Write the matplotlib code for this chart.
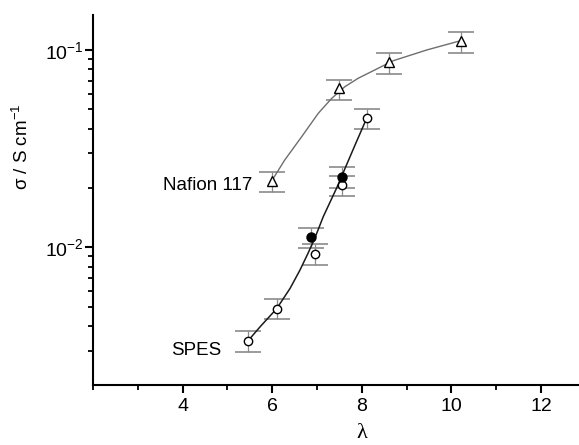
import numpy as np
import matplotlib as mpl
mpl.use('Agg')
import matplotlib.pyplot as plt
from matplotlib.ticker import LogLocator, NullFormatter, MultipleLocator

plt.rcParams['font.family'] = ['Liberation Sans', 'DejaVu Sans']
plt.rcParams['mathtext.default'] = 'regular'

### data
# Nafion 117 (open triangles)
naf_lam = [6.0, 7.5, 8.61, 10.21]
naf_sig = [0.0217, 0.064, 0.0873, 0.111]
naf_lo = [0.019, 0.0558, 0.076, 0.097]
naf_hi = [0.024, 0.0705, 0.097, 0.123]

# SPES (open circles)
spes_lam = [5.46, 6.10, 6.95, 7.57, 8.11]
spes_sig = [0.00336, 0.00489, 0.00929, 0.0206, 0.0451]
spes_lo = [0.00294, 0.00432, 0.00817, 0.0182, 0.0396]
spes_hi = [0.00375, 0.00545, 0.0104, 0.0231, 0.0505]

# SPES (filled circles)
spesf_lam = [6.86, 7.56]
spesf_sig = [0.0113, 0.0228]
spesf_lo = [0.00992, 0.0200]
spesf_hi = [0.0126, 0.0256]

# fitted curves (traced)
naf_fit_lam = [6.0, 6.28, 6.66, 7.03, 7.33, 7.62, 7.92, 8.29, 8.70, 9.45, 10.21]
naf_fit_sig = [0.0219, 0.0277, 0.0364, 0.0478, 0.0569, 0.0651, 0.0719, 0.0792, 0.0882, 0.100, 0.1115]
spes_fit_lam = [5.46, 5.73, 6.10, 6.40, 6.62, 6.80, 6.95, 7.14, 7.44, 7.85, 8.11]
spes_fit_sig = [0.00336, 0.00396, 0.00489, 0.0062, 0.00767, 0.00933, 0.0111, 0.0143, 0.0200, 0.033, 0.0451]

xticks = [4, 6, 8, 10, 12]

#%%
def yerr(sig, lo, hi):
    sig = np.array(sig)
    return [sig - np.array(lo), np.array(hi) - sig]

fig = plt.figure(figsize=(5.79, 4.45), dpi=100)
ax = fig.add_axes([93/579, 1-384.5/445, 1-93/579, (384.5-15)/445])

ax.plot(naf_fit_lam, naf_fit_sig, color='#6e6e6e', lw=1.0, zorder=2)
ax.plot(spes_fit_lam, spes_fit_sig, color='#1a1a1a', lw=1.1, zorder=2)

ekw = dict(fmt='none', ecolor='#8a8a8a', elinewidth=0.9, capsize=9.7, capthick=1.2, zorder=1)
ax.errorbar(naf_lam, naf_sig, yerr=yerr(naf_sig, naf_lo, naf_hi), **ekw)
ax.errorbar(spes_lam, spes_sig, yerr=yerr(spes_sig, spes_lo, spes_hi), **ekw)
ax.errorbar(spesf_lam, spesf_sig, yerr=yerr(spesf_sig, spesf_lo, spesf_hi), **ekw)

ax.plot(naf_lam, naf_sig, ls='none', marker='^', ms=7, mfc='white', mec='black', mew=1.0, zorder=3)
ax.plot(spes_lam, spes_sig, ls='none', marker='o', ms=6, mfc='white', mec='black', mew=1.0, zorder=3)
ax.plot(spesf_lam, spesf_sig, ls='none', marker='o', ms=6.5, mfc='black', mec='black', mew=1.0, zorder=3)

ax.set_yscale('log')
ax.set_xlim(2, 12.85)
ax.set_ylim(0.00202, 0.1504)
ax.set_xticks(xticks)
ax.xaxis.set_minor_locator(MultipleLocator(1))
ax.yaxis.set_major_locator(LogLocator(base=10, numticks=10))
ax.yaxis.set_minor_locator(LogLocator(base=10, subs=np.arange(2, 10), numticks=20))
ax.yaxis.set_minor_formatter(NullFormatter())

for s in ['top', 'right']:
    ax.spines[s].set_visible(False)
for s in ['left', 'bottom']:
    ax.spines[s].set_linewidth(1.5)

ax.tick_params(which='major', direction='out', length=6, width=1.5, labelsize=14)
ax.tick_params(axis='x', which='major', pad=4)
ax.tick_params(axis='y', which='major', pad=0.5)
ax.tick_params(which='minor', direction='out', length=3.5, width=1.3)

ax.set_ylabel(r'$\sigma$ / S cm$^{-1}$', fontsize=13.5)
ax.yaxis.set_label_coords(-0.125, 0.643)
ax.set_xlabel('λ', fontsize=16, family=['Liberation Serif', 'DejaVu Serif'], va='top')
ax.xaxis.set_label_coords(0.553, -0.108)

ax.text(6.0 - 0.45, 0.0205, 'Nafion 117', fontsize=13.5, ha='right', va='center')
ax.text(5.46 - 0.6, 0.0030, 'SPES', fontsize=13.5, ha='right', va='center')

fig.savefig('out.png', dpi=100)
